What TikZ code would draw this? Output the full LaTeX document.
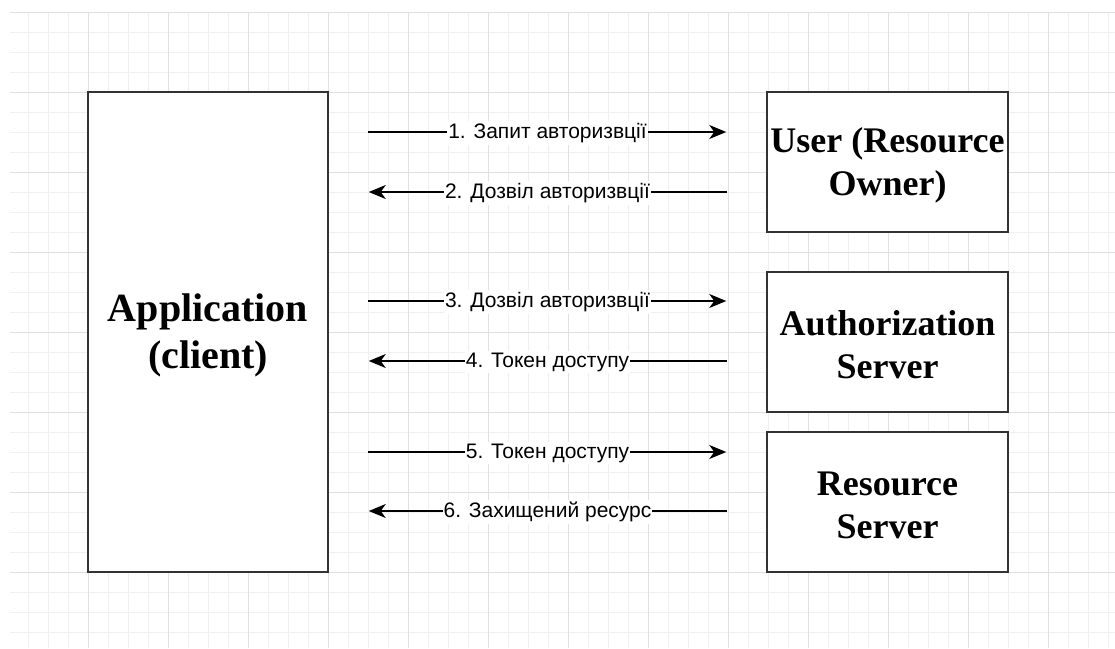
\documentclass[tikz,border=0pt]{standalone}
\usepackage{fontspec}
\setmainfont{Liberation Serif}
\newfontfamily\labfont{Liberation Sans}
\usetikzlibrary{arrows.meta,calc}
\definecolor{minorgrid}{HTML}{F0F0F0}
\definecolor{majorgrid}{HTML}{E0E0E0}
\definecolor{boxline}{HTML}{333333}
\tikzset{
  minorline/.style={draw=minorgrid, line width=0.8pt},
  majorline/.style={draw=majorgrid, line width=0.9pt},
  box/.style={draw=boxline, line width=1.5pt, fill=white, inner sep=0pt},
  boxtext/.style={yshift=-3pt, align=center, inner sep=0pt, font=\bfseries\fontsize{36}{43}\selectfont},
  apptext/.style={yshift=-3pt, align=center, inner sep=0pt, font=\bfseries\fontsize{40}{47}\selectfont},
  arr/.style={draw=black, line width=1.5pt, -{Stealth[length=17pt,width=14pt,inset=5pt]}, shorten <=39pt, shorten >=40pt},
  lab/.style={midway, yshift=-1pt, fill=white, inner xsep=1pt, inner ysep=2pt, text=black, font=\labfont\fontsize{21}{24}\selectfont}
}
\begin{document}
\begin{tikzpicture}[x=1pt,y=-1pt]
\useasboundingbox (0,0) rectangle (1115,648);
\fill[white] (0,0) rectangle (1115,648);
% grid
\foreach \x in {28,48,...,1108} \draw[minorline] (\x,12) -- (\x,648);
\foreach \y in {32,52,...,632} \draw[minorline] (10,\y) -- (1115,\y);
\foreach \x in {88,168,...,1048} \draw[majorline] (\x,12) -- (\x,648);
\foreach \y in {12,92,...,572} \draw[majorline] (10,\y) -- (1115,\y);
% boxes
\node[box, minimum width=240pt, minimum height=480pt, label={[apptext, name=apptxt]center:Application\\(client)}] (app) at (208,332) {};
\node[box, minimum width=241pt, minimum height=140pt, label={[boxtext, name=usertxt]center:User (Resource\\Owner)}] (user) at (887.5,162) {};
\node[box, minimum width=241pt, minimum height=140pt, label={[boxtext, name=authtxt]center:Authorization\\Server}] (auth) at (887.5,342) {};
\node[box, minimum width=241pt, minimum height=140pt, label={[boxtext, name=restxt]center:Resource\\Server}] (res) at (887.5,502) {};
% arrows
\draw[arr] ($(app.east |- user.west)+(0,-30)$) -- node[lab]{1. Запит авторизвції} ($(user.west)+(0,-30)$);
\draw[arr] ($(user.west)+(0,30)$) -- node[lab]{2. Дозвіл авторизвції} ($(app.east |- user.west)+(0,30)$);
\draw[arr] ($(app.east |- auth.west)+(0,-41)$) -- node[lab]{3. Дозвіл авторизвції} ($(auth.west)+(0,-41)$);
\draw[arr] ($(auth.west)+(0,19)$) -- node[lab]{4. Токен доступу} ($(app.east |- auth.west)+(0,19)$);
\draw[arr] ($(app.east |- res.west)+(0,-50)$) -- node[lab]{5. Токен доступу} ($(res.west)+(0,-50)$);
\draw[arr] ($(res.west)+(0,9)$) -- node[lab]{6. Захищений ресурс} ($(app.east |- res.west)+(0,9)$);
\end{tikzpicture}
\end{document}
